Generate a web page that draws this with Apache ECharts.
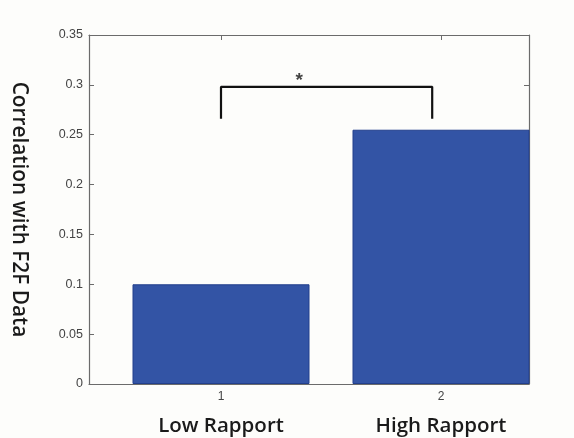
<!DOCTYPE html>
<html>
<head>
<meta charset="utf-8">
<script src="https://cdn.jsdelivr.net/npm/echarts@6/dist/echarts.min.js"></script>
<style>
  html, body { margin: 0; padding: 0; background: #fdfdfb; }
  #main { width: 574px; height: 438px; }
</style>
</head>
<body>
<div id="main"></div>
<script>
// bar data (x position = group number)
const xPositions = [1, 2];
const tickLabels = ['1', '2'];
const categories = ['Low Rapport', 'High Rapport'];
const values = [0.1, 0.255];

// significance bracket
const bracketX = [1, 1, 1.96, 1.96];
const bracketY = [0.266, 0.298, 0.298, 0.266];
const starPos = [1.355, 0.298];

const axisColor = '#6b6b6b';
const fontMain = '"Open Sans", Lato, sans-serif';

var myChart = echarts.init(document.getElementById('main'));

var option = {
    backgroundColor: '#fdfdfb',
    animation: false,
    grid: { left: 89, top: 35, right: 45, bottom: 54, outerBoundsMode: 'none' },
    xAxis: [
        {
            type: 'value',
            min: 0.4,
            max: 2.4,
            splitLine: { show: false },
            axisLine: { onZero: false, lineStyle: { color: axisColor, width: 1.2 } },
            axisTick: {
                inside: true, length: 5, customValues: xPositions,
                lineStyle: { color: axisColor }
            },
            axisLabel: {
                customValues: xPositions,
                margin: 5,
                formatter: function (v) {
                    let i = xPositions.indexOf(v);
                    return '{t|' + tickLabels[i] + '}\n{c|' + categories[i] + '}';
                },
                rich: {
                    t: { fontSize: 12, color: '#444', fontFamily: 'Arial, sans-serif', lineHeight: 16 },
                    c: { fontSize: 20.5, fontWeight: 600, color: '#1a1a1a', fontFamily: fontMain, lineHeight: 42 }
                }
            }
        },
        {
            type: 'value',
            position: 'top',
            min: 0.4,
            max: 2.4,
            splitLine: { show: false },
            axisLine: { show: true, onZero: false, lineStyle: { color: axisColor, width: 1.2 } },
            axisTick: {
                show: true, inside: true, length: 5, customValues: xPositions,
                lineStyle: { color: axisColor }
            },
            axisLabel: { show: false }
        }
    ],
    yAxis: [
        {
            type: 'value',
            min: 0,
            max: 0.35,
            interval: 0.05,
            splitLine: { show: false },
            axisLine: { show: true, onZero: false, lineStyle: { color: axisColor, width: 1.2 } },
            axisTick: { show: true, inside: true, length: 5, lineStyle: { color: axisColor } },
            axisLabel: {
                color: '#444', fontSize: 12.5, fontFamily: 'Arial, sans-serif', margin: 6,
                formatter: function (v) { return String(+v.toFixed(2)); }
            },
            name: 'Correlation with F2F Data',
            nameLocation: 'middle',
            nameRotate: -90,
            nameGap: 60,
            nameTextStyle: { fontSize: 20.8, fontWeight: 600, color: '#1a1a1a', fontFamily: fontMain }
        },
        {
            type: 'value',
            position: 'right',
            min: 0,
            max: 0.35,
            interval: 0.05,
            splitLine: { show: false },
            axisLine: { show: true, onZero: false, lineStyle: { color: axisColor, width: 1.2 } },
            axisTick: { show: true, inside: true, length: 5, lineStyle: { color: axisColor } },
            axisLabel: { show: false }
        }
    ],
    series: [
        {
            type: 'bar',
            xAxisIndex: 0,
            yAxisIndex: 0,
            barWidth: 177,
            data: xPositions.map((x, i) => [x, values[i]]),
            itemStyle: { color: '#3354a5', borderColor: '#223f8c', borderWidth: 1 }
        },
        {
            type: 'line',
            xAxisIndex: 0,
            yAxisIndex: 0,
            data: bracketX.map((x, i) => [x, bracketY[i]]),
            symbol: 'none',
            lineStyle: { color: '#111', width: 2.2 }
        },
        {
            type: 'scatter',
            xAxisIndex: 0,
            yAxisIndex: 0,
            data: [starPos],
            symbolSize: 0,
            label: {
                show: true, position: 'top', distance: -3, formatter: '*',
                fontSize: 19, fontWeight: 'bold', color: '#111', fontFamily: 'Arial, sans-serif'
            }
        }
    ]
};
myChart.setOption(option);
</script>
</body>
</html>
